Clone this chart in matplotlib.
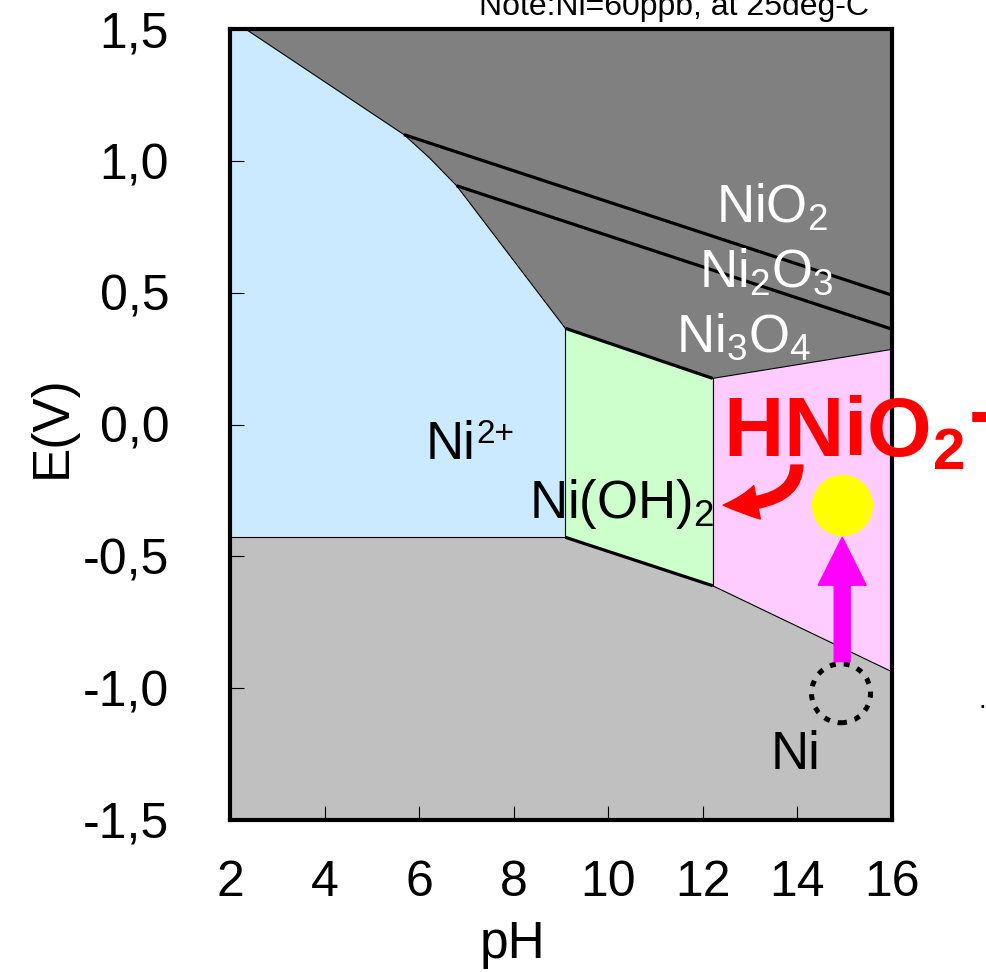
import matplotlib
matplotlib.use('Agg')
import matplotlib.pyplot as plt
from matplotlib.patches import Circle, FancyArrowPatch
from matplotlib.transforms import ScaledTranslation

plt.rcParams['font.family'] = ['Liberation Sans', 'DejaVu Sans']
plt.rcParams['mathtext.fontset'] = 'custom'
plt.rcParams['mathtext.rm'] = 'Liberation Sans'
plt.rcParams['mathtext.it'] = 'Liberation Sans:italic'
plt.rcParams['mathtext.bf'] = 'Liberation Sans:bold'
plt.rcParams['mathtext.default'] = 'regular'

# ---------------- data ----------------
ph_ticks = [2, 4, 6, 8, 10, 12, 14, 16]
e_ticks = [1.5, 1.0, 0.5, 0.0, -0.5, -1.0, -1.5]
e_tick_labels = ['1,5', '1,0', '0,5', '0,0', '-0,5', '-1,0', '-1,5']

# Ni2+ / oxide boundary (upper edge of Ni2+ field)
ni2_upper_ph = [2.33, 5.676, 6.226, 6.79, 9.09]
ni2_upper_e = [1.5, 1.100, 1.010, 0.906, 0.365]
ni2_lower_e = -0.428          # Ni2+ / Ni

# Ni(OH)2 field
nioh2_ph = [9.09, 12.21]
nioh2_top_e = [0.365, 0.175]
nioh2_bot_e = [-0.428, -0.612]

# HNiO2- field
hnio2_ph = [12.21, 16.0]
hnio2_top_e = [0.175, 0.285]
hnio2_bot_e = [-0.612, -0.938]

# oxide sub-boundaries
nio2_ni2o3_ph = [5.676, 16.0]
nio2_ni2o3_e = [1.100, 0.491]
ni2o3_ni3o4_ph = [6.79, 16.0]
ni2o3_ni3o4_e = [0.906, 0.362]

# markers / arrows
yellow_pt = (14.95, -0.306)
ni_start_pt = (14.925, -1.02)
magenta_tail = (14.95, -0.900)
magenta_tip = (14.95, -0.428)
red_tail = (13.99, -0.154)
red_tip = (12.43, -0.306)

# ---------------- figure ----------------
fig = plt.figure(figsize=(9.87, 9.72), dpi=100)
ax = fig.add_axes([230.3 / 987, 1 - 819.75 / 972, 661.5 / 987, 790.5 / 972])
ax.set_xlim(2, 16)
ax.set_ylim(-1.5, 1.5)
ax.set_facecolor('#c0c0c0')

# dark grey oxide field
ox_x = ni2_upper_ph + [nioh2_ph[1], hnio2_ph[1], 16.0, 16.0]
ox_y = ni2_upper_e + [nioh2_top_e[1], hnio2_top_e[1], 1.5, 1.5]
ax.fill(ox_x + [ni2_upper_ph[0]], ox_y + [1.5], color='#808080', lw=0, zorder=1)

# Ni2+ field
bx = [2.0] + ni2_upper_ph + [ni2_upper_ph[-1], 2.0]
by = [1.5] + ni2_upper_e + [ni2_lower_e, ni2_lower_e]
ax.fill(bx, by, color='#cceaff', lw=0, zorder=1)

# Ni(OH)2 field
ax.fill(nioh2_ph + nioh2_ph[::-1], nioh2_top_e + nioh2_bot_e[::-1],
        color='#ccffcc', lw=0, zorder=1)

# HNiO2- field
ax.fill(hnio2_ph + hnio2_ph[::-1], hnio2_top_e + hnio2_bot_e[::-1],
        color='#ffccff', lw=0, zorder=1)

# boundaries
thin = dict(color='black', lw=0.8, zorder=2)
thick = dict(color='black', lw=2.3, zorder=2, solid_capstyle='butt')
ax.plot(ni2_upper_ph, ni2_upper_e, **thin)
ax.plot([2, ni2_upper_ph[-1]], [ni2_lower_e, ni2_lower_e], **thin)
ax.plot([nioh2_ph[0], nioh2_ph[0]], [nioh2_bot_e[0], nioh2_top_e[0]], **thin)
ax.plot([nioh2_ph[1], nioh2_ph[1]], [nioh2_bot_e[1], nioh2_top_e[1]], **thin)
ax.plot(nioh2_ph, nioh2_top_e, **thick)
ax.plot(nioh2_ph, nioh2_bot_e, **thick)
ax.plot(hnio2_ph, hnio2_top_e, **thin)
ax.plot(hnio2_ph, hnio2_bot_e, **thin)
ax.plot(nio2_ni2o3_ph, nio2_ni2o3_e, **thick)
ax.plot(ni2o3_ni3o4_ph, ni2o3_ni3o4_e, **thick)

# axes styling
for s in ax.spines.values():
    s.set_linewidth(3.0)
    s.set_zorder(5)
ax.set_xticks(ph_ticks)
ax.set_xticklabels([str(t) for t in ph_ticks])
ax.set_yticks(e_ticks)
ax.set_yticklabels(e_tick_labels)
ax.tick_params(direction='in', length=10, width=0.8, labelsize=36)
ax.tick_params(axis='x', pad=29)
ax.tick_params(axis='y', pad=44)

fig.text(512 / 987, 1 - 958 / 972, 'pH', fontsize=37, ha='center', va='baseline')
fig.text(52 / 987, 1 - 427 / 972, 'E(V)', fontsize=37, ha='center', va='center',
         rotation=90)
fig.text(478.6 / 987, 1 - 15 / 972, 'Note:Ni=60ppb, at 25deg-C', fontsize=23,
         ha='left', va='baseline')
fig.text(982 / 987, 1 - 708 / 972, '.', fontsize=20, ha='center', va='baseline')

# field labels
ax.text(12.28, 0.765, r'NiO$_2$', color='white', fontsize=38, va='baseline', zorder=4)
ax.text(11.91, 0.523, r'Ni$_2$O$_3$', color='white', fontsize=38, va='baseline', zorder=4)
ax.text(11.43, 0.276, r'Ni$_3$O$_4$', color='white', fontsize=38, va='baseline', zorder=4)
ax.text(6.14, -0.132, 'Ni', color='black', fontsize=38, va='baseline', zorder=4)
ax.annotate('2+', xy=(6.14, -0.132), xytext=(36.5, 11.5), textcoords='offset points',
            fontsize=24, va='baseline', zorder=4)
ax.text(8.33, -0.356, r'Ni(OH)$_2$', color='black', fontsize=38, va='baseline', zorder=4)
ax.text(13.44, -1.309, 'Ni', color='black', fontsize=38, va='baseline', zorder=4)
ax.text(12.42, -0.122, r'HNiO$_\mathbf{2}$', color='red', fontsize=60,
        fontweight='bold', va='baseline', zorder=6, clip_on=False)
ax.text(17.62, -0.055, '-', color='red', fontsize=60, fontweight='bold',
        va='baseline', zorder=6, clip_on=False)

# yellow circle
ax.plot([yellow_pt[0]], [yellow_pt[1]], 'o', ms=44, color='#ffff00', mec='none', zorder=4)

# dotted circle (initial Ni)
tr = fig.dpi_scale_trans + ScaledTranslation(ni_start_pt[0], ni_start_pt[1], ax.transData)
circ = Circle((0, 0), radius=0.295, transform=tr, fill=False, ec='black', lw=3.6,
              linestyle=(0, (1.2, 1.6)), zorder=4)
ax.add_patch(circ)

# magenta arrow
ma = FancyArrowPatch(magenta_tail, magenta_tip,
                     arrowstyle='simple,head_length=34.5,head_width=34.5,tail_width=11.5',
                     mutation_scale=1, color='#ff00ff', shrinkA=0, shrinkB=0, zorder=4)
ax.add_patch(ma)

# red curved arrow
ra = FancyArrowPatch(red_tail, red_tip,
                     arrowstyle='simple,head_length=24.5,head_width=24.5,tail_width=8.6',
                     connectionstyle='angle3,angleA=90,angleB=0',
                     mutation_scale=1, color='red', shrinkA=0, shrinkB=0, zorder=4)
ax.add_patch(ra)

fig.savefig('out.png', dpi=100)
